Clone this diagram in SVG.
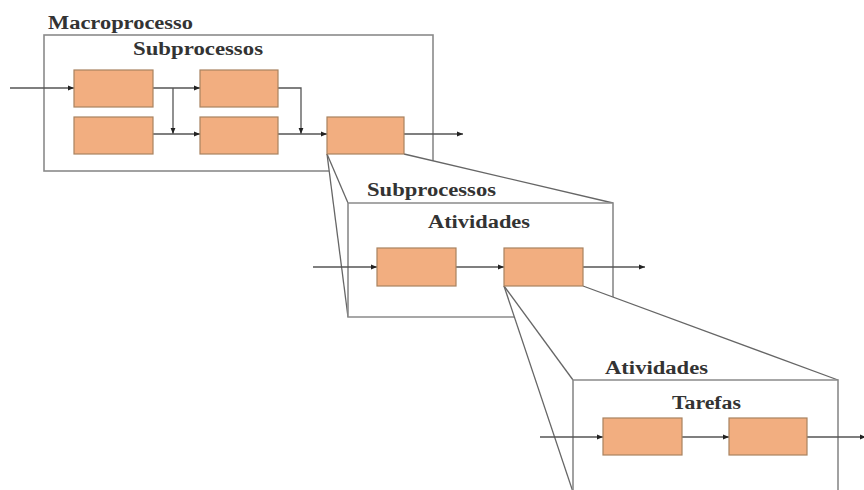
<svg xmlns="http://www.w3.org/2000/svg" width="864" height="490" viewBox="0 0 864 490">
<style>
.lbl{font-family:"Liberation Serif","Times New Roman",serif;font-weight:bold;font-size:18px;fill:#333}
.frame{fill:#fff;stroke:#8a8a8a;stroke-width:1.6}
.proj{fill:none;stroke:#666;stroke-width:1.3}
.task{fill:#f2ae80;stroke:#a8825f;stroke-width:1.2}
.con{fill:none;stroke:#555;stroke-width:1.3;marker-end:url(#ah)}
</style>
<defs>
<marker id="ah" viewBox="0 0 10 10" refX="10" refY="5" markerWidth="6" markerHeight="6" markerUnits="userSpaceOnUse" orient="auto">
<path d="M0,1 L10,5 L0,9 z" fill="#222"/>
</marker>
</defs>
<rect width="864" height="490" fill="#fff"/>

<g id="macroprocesso">
<rect class="frame" x="44" y="35" width="389" height="136"/>
<text class="lbl" x="48" y="29" textLength="145" lengthAdjust="spacingAndGlyphs">Macroprocesso</text>
<text class="lbl" x="133" y="55" textLength="130" lengthAdjust="spacingAndGlyphs">Subprocessos</text>
</g>

<g id="zoom1">
<polygon points="327,154 404,154 613,203 613,317 348,317" fill="#fff" stroke="none"/>
<line class="proj" x1="327" y1="154" x2="348" y2="203"/>
<line class="proj" x1="327" y1="154" x2="348" y2="317"/>
<line class="proj" x1="404" y1="154" x2="613" y2="203"/>
</g>

<g id="subprocessos">
<path class="frame" d="M348,317 L348,203 L613,203 L613,317 Z"/>
<text class="lbl" x="367" y="196" textLength="129" lengthAdjust="spacingAndGlyphs">Subprocessos</text>
<text class="lbl" x="428" y="228" textLength="102" lengthAdjust="spacingAndGlyphs">Atividades</text>
</g>

<g id="zoom2">
<polygon points="504,286 583,286 838,380 838,500 575,500" fill="#fff" stroke="none"/>
<line class="proj" x1="504" y1="286" x2="573" y2="380"/>
<line class="proj" x1="504" y1="286" x2="573" y2="492"/>
<line class="proj" x1="583" y1="286" x2="838" y2="380"/>
</g>

<g id="atividades">
<path class="frame" d="M573,495 L573,380 L838,380 L838,495"/>
<text class="lbl" x="605" y="374" textLength="103" lengthAdjust="spacingAndGlyphs">Atividades</text>
<text class="lbl" x="672" y="409" textLength="69" lengthAdjust="spacingAndGlyphs">Tarefas</text>
</g>

<g id="connectors">
<path class="con" d="M10,88 L74,88"/>
<path class="con" d="M153,88 L200,88"/>
<path class="con" d="M173,88 L173,134"/>
<path class="con" d="M153,134 L200,134"/>
<path class="con" d="M278,88 L301,88 L301,134"/>
<path class="con" d="M278,134 L327,134"/>
<path class="con" d="M404,134 L463,134"/>
<path class="con" d="M313,267 L377,267"/>
<path class="con" d="M456,267 L504,267"/>
<path class="con" d="M583,267 L645,267"/>
<path class="con" d="M540,437 L603,437"/>
<path class="con" d="M682,437 L729,437"/>
<path class="con" d="M807,437 L866,437"/>
</g>

<g id="sp1"><rect class="task" x="74" y="70" width="79" height="37"/></g>
<g id="sp2"><rect class="task" x="74" y="117" width="79" height="37"/></g>
<g id="sp3"><rect class="task" x="200" y="70" width="78" height="37"/></g>
<g id="sp4"><rect class="task" x="200" y="117" width="78" height="37"/></g>
<g id="sp5"><rect class="task" x="327" y="117" width="77" height="37"/></g>
<g id="at1"><rect class="task" x="377" y="248" width="79" height="38"/></g>
<g id="at2"><rect class="task" x="504" y="248" width="79" height="38"/></g>
<g id="ta1"><rect class="task" x="603" y="418" width="79" height="37"/></g>
<g id="ta2"><rect class="task" x="729" y="418" width="78" height="37"/></g>
</svg>
